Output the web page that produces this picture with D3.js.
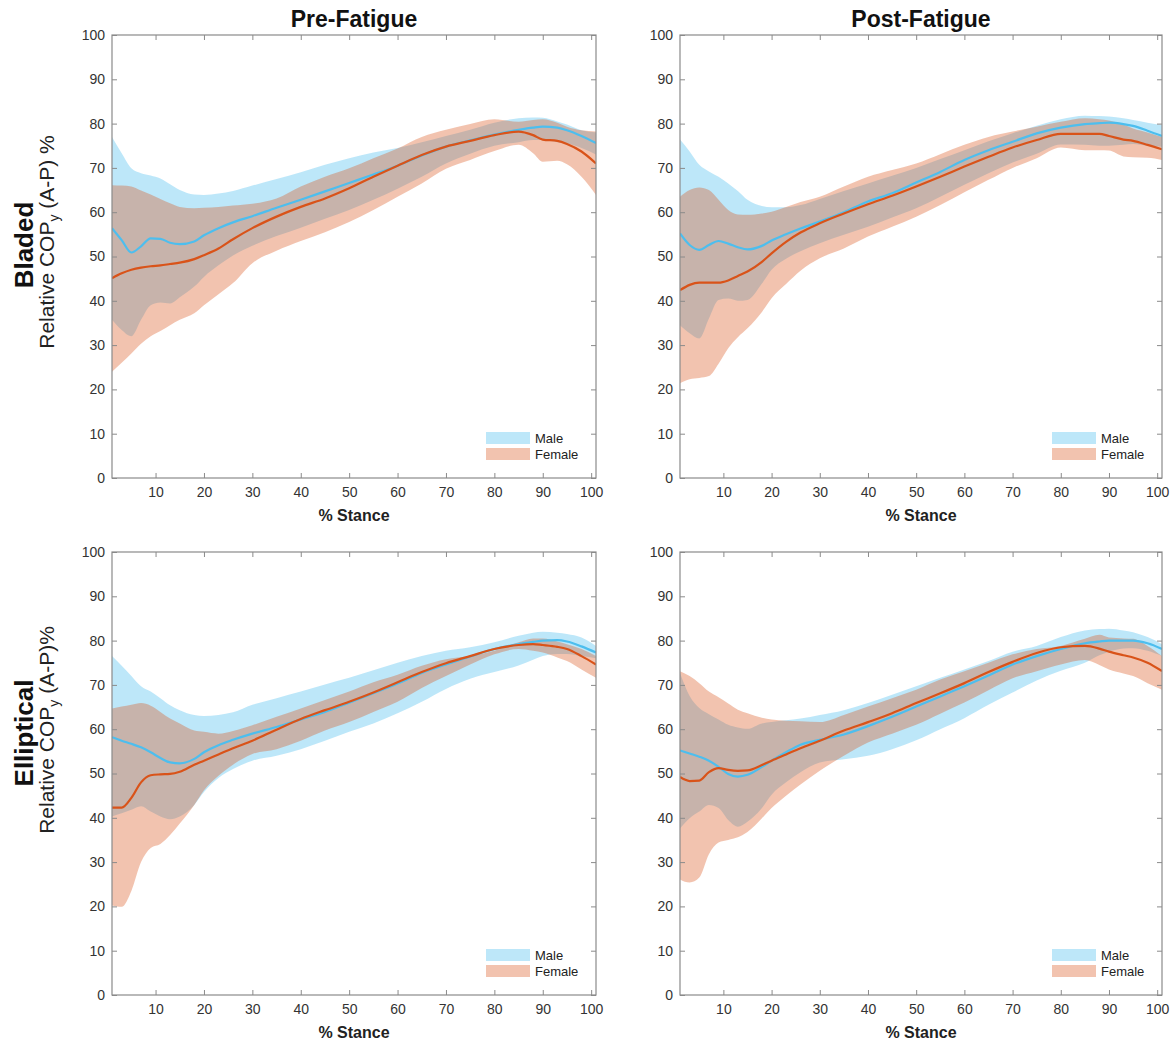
<!DOCTYPE html>
<html>
<head>
<meta charset="utf-8">
<script src="https://cdn.jsdelivr.net/npm/d3@7"></script>
<style>
  body { margin: 0; background: #fff; }
  text { font-family: "Liberation Sans", Arial, Helvetica, sans-serif; }
</style>
</head>
<body>
<svg id="chart" width="1174" height="1040"></svg>
<script>
// Knot positions along the stance phase (% stance)
const stance = [1, 3, 5, 7, 9, 11, 13, 15, 18, 20, 23, 26, 30, 35, 40, 45, 50, 55, 60, 65, 70, 75, 80, 85, 88, 90, 93, 95, 98, 101];

const xTicks = [10, 20, 30, 40, 50, 60, 70, 80, 90, 100];
const yTicks = [0, 10, 20, 30, 40, 50, 60, 70, 80, 90, 100];
const columnTitles = ["Pre-Fatigue", "Post-Fatigue"];
const rowTitles = ["Bladed", "Elliptical"];
const rowAxisLabels = [["Relative COP", "y", " (A-P) %"], ["Relative COP", "y", " (A-P)%"]];
const xAxisLabel = "% Stance";
const legendLabels = ["Male", "Female"];

// Bladed, pre-fatigue
const preBladedMaleMean   = [56.4,53.7,50.9,52.3,54.1,54.0,53.1,52.8,53.4,54.8,56.4,57.7,59.1,61.0,62.8,64.7,66.6,68.5,70.5,72.8,74.8,76.2,77.5,78.6,79.1,79.3,79.1,78.5,77.2,75.6];
const preBladedMaleUpper  = [77.0,73.3,69.9,68.8,68.3,67.6,66.3,65.0,64.0,63.9,64.2,64.8,66.0,67.5,69.0,70.7,72.2,73.5,74.5,75.8,77.2,78.6,80.2,81.2,81.4,81.3,80.5,79.8,78.5,78.0];
const preBladedMaleLower  = [35.7,33.4,32.0,35.7,39.0,39.6,39.4,40.8,43.2,45.4,48.0,50.2,52.4,54.6,56.5,58.5,60.5,62.8,65.3,68.0,71.0,73.2,75.0,75.8,76.3,76.3,75.8,75.5,74.5,73.0];
const preBladedFemMean    = [45.1,46.2,47.0,47.5,47.8,48.0,48.3,48.6,49.4,50.3,51.8,53.9,56.4,59.0,61.2,63.1,65.4,68.0,70.5,72.9,74.8,76.1,77.4,78.2,77.4,76.4,76.1,75.4,73.7,71.0];
const preBladedFemUpper   = [66.1,66.0,65.8,64.9,64.0,63.0,62.0,61.2,60.9,61.0,61.2,61.5,61.9,63.1,65.8,68.0,69.9,72.2,74.4,77.0,78.6,79.9,81.0,80.4,80.8,81.0,80.2,79.3,78.5,78.2];
const preBladedFemLower   = [24.0,26.0,28.1,30.3,32.0,33.2,34.5,35.7,37.2,39.0,41.5,44.0,48.5,51.3,53.5,55.5,57.8,60.5,63.5,66.5,69.8,71.8,73.8,75.2,73.3,71.4,71.6,70.8,68.0,63.9];

// Bladed, post-fatigue
const postBladedMaleMean  = [55.2,52.6,51.5,52.6,53.5,52.9,52.1,51.6,52.4,53.6,55.0,56.3,57.9,60.0,62.4,64.3,66.7,69.1,71.8,74.0,75.9,77.8,79.1,79.9,80.1,80.2,79.9,79.5,78.4,77.2];
const postBladedMaleUpper = [76.4,73.7,70.7,69.2,68.0,66.5,64.8,62.8,61.4,61.1,61.1,61.6,63.0,64.8,66.5,68.2,70.0,72.0,74.0,76.0,77.8,79.5,81.0,81.8,81.7,81.6,81.2,80.8,80.2,79.7];
const postBladedMaleLower = [34.5,32.7,31.5,36.0,40.2,40.5,40.0,40.2,43.9,47.0,49.5,51.2,53.0,54.9,56.7,58.8,60.9,63.5,66.2,68.8,71.2,73.2,75.3,75.2,75.0,75.0,75.2,75.4,75.0,74.8];
const postBladedFemMean   = [42.4,43.6,44.1,44.1,44.1,44.6,45.6,46.6,48.8,50.7,53.3,55.4,57.5,59.7,61.8,63.7,65.8,68.0,70.3,72.5,74.6,76.3,77.7,77.7,77.7,77.2,76.4,76.1,75.2,74.2];
const postBladedFemUpper  = [63.5,65.0,65.6,65.0,62.8,60.5,59.5,59.4,59.7,60.1,61.2,62.3,63.5,65.8,68.0,69.5,71.0,73.1,75.2,77.0,78.2,79.3,80.4,81.2,81.0,80.7,79.8,78.9,78.0,77.0];
const postBladedFemLower  = [21.4,22.3,22.6,23.0,25.8,29.3,31.8,33.8,37.5,40.6,43.8,46.8,49.6,51.8,54.5,56.7,59.0,61.6,64.5,67.3,70.0,72.2,74.6,74.0,74.0,73.9,72.6,72.4,72.3,71.8];

// Elliptical, pre-fatigue
const preEllipMaleMean    = [58.2,57.4,56.7,55.9,54.8,53.5,52.5,52.3,53.3,54.8,56.4,57.6,59.0,60.5,62.2,63.9,66.0,68.1,70.3,72.7,74.6,76.4,78.1,79.2,79.7,80.0,80.1,79.8,78.7,77.3];
const preEllipMaleUpper   = [76.5,74.3,72.0,69.7,68.5,67.0,65.4,64.3,63.2,63.0,63.2,63.8,65.5,67.0,68.5,70.1,71.6,73.3,75.0,76.5,77.7,78.5,79.6,81.1,81.8,82.0,81.8,81.5,80.7,78.8];
const preEllipMaleLower   = [40.3,41.0,41.8,42.6,41.4,40.3,39.7,40.3,42.9,45.8,49.0,51.0,52.9,54.0,55.5,57.4,59.4,61.3,63.6,66.2,69.1,71.4,72.9,74.4,75.7,76.5,77.0,77.0,76.5,76.0];
const preEllipFemMean     = [42.3,42.3,44.5,48.0,49.6,49.8,49.9,50.4,52.0,52.9,54.3,55.7,57.4,59.9,62.3,64.3,66.2,68.3,70.6,72.9,74.9,76.5,78.1,79.0,79.2,79.0,78.6,78.1,76.5,74.6];
const preEllipFemUpper    = [64.7,65.1,65.5,65.9,65.3,63.9,62.4,61.3,59.7,59.4,59.0,59.6,60.9,62.8,64.7,66.6,68.5,70.6,72.3,74.3,75.8,76.5,77.7,79.6,80.5,80.5,79.8,79.2,78.1,76.5];
const preEllipFemLower    = [20.2,19.9,23.5,30.0,33.2,34.1,36.1,38.7,42.9,46.2,49.5,52.0,54.4,55.5,57.4,59.7,61.6,63.9,66.2,69.3,72.0,74.6,76.9,78.1,77.7,77.3,76.2,75.4,73.5,71.6];

// Elliptical, post-fatigue
const postEllipMaleMean   = [55.2,54.5,53.8,52.9,51.5,49.9,49.3,49.7,51.5,52.9,54.8,56.5,57.6,58.8,60.7,62.8,65.1,67.4,69.7,72.1,74.6,76.5,78.1,79.4,79.8,80.0,80.0,80.0,79.4,78.1];
const postEllipMaleUpper  = [72.7,67.5,64.8,63.4,62.2,61.0,60.4,60.1,61.3,61.6,62.0,62.4,63.2,64.3,65.9,67.8,69.7,71.6,73.5,75.4,77.5,78.8,80.8,82.3,82.6,82.7,82.3,81.9,80.8,79.2];
const postEllipMaleLower  = [37.6,39.9,41.4,42.9,42.2,39.5,38.0,39.1,42.2,45.2,48.0,50.3,52.5,53.2,54.0,55.5,57.5,60.0,62.5,65.5,68.3,71.0,73.2,75.0,76.7,77.5,78.2,78.3,77.7,76.5];
const postEllipFemMean    = [49.2,48.3,48.4,50.3,51.2,50.8,50.6,50.7,51.9,52.9,54.3,55.7,57.4,59.7,61.6,63.6,65.9,68.1,70.4,72.9,75.2,77.2,78.5,78.8,78.2,77.5,76.7,76.2,75.0,73.1];
const postEllipFemUpper   = [73.1,72.0,70.4,68.5,67.2,65.8,64.4,63.6,62.6,62.2,61.9,61.8,61.6,63.2,65.1,67.0,68.9,71.2,73.1,75.0,76.9,78.1,78.8,80.4,81.3,80.7,80.5,80.4,78.8,76.5];
const postEllipFemLower   = [26.1,25.4,26.5,31.8,34.4,35.0,35.6,36.8,39.9,42.2,45.0,47.5,50.6,54.0,57.0,59.0,61.0,63.5,66.0,68.8,71.5,73.1,74.6,75.6,74.5,73.5,72.6,72.0,70.4,68.9];

const panels = [
  { row: 0, col: 0,
    male:   { mean: preBladedMaleMean,  upper: preBladedMaleUpper,  lower: preBladedMaleLower },
    female: { mean: preBladedFemMean,   upper: preBladedFemUpper,   lower: preBladedFemLower } },
  { row: 0, col: 1,
    male:   { mean: postBladedMaleMean, upper: postBladedMaleUpper, lower: postBladedMaleLower },
    female: { mean: postBladedFemMean,  upper: postBladedFemUpper,  lower: postBladedFemLower } },
  { row: 1, col: 0,
    male:   { mean: preEllipMaleMean,   upper: preEllipMaleUpper,   lower: preEllipMaleLower },
    female: { mean: preEllipFemMean,    upper: preEllipFemUpper,    lower: preEllipFemLower } },
  { row: 1, col: 1,
    male:   { mean: postEllipMaleMean,  upper: postEllipMaleUpper,  lower: postEllipMaleLower },
    female: { mean: postEllipFemMean,   upper: postEllipFemUpper,   lower: postEllipFemLower } }
];

// Frame geometry for the 2x2 grid
const colX = [[112, 596], [680, 1162]];
const rowY = [[35, 478], [552, 995]];
const rowLabelY = [245, 733];

const style = {
  male:   { line: "#4DBEEE", fill: "rgba(77,190,238,0.37)" },
  female: { line: "#D95319", fill: "rgba(217,83,25,0.35)" },
  axis: "#8a8a8a",
  tickText: "#333"
};

const svg = d3.select("#chart");
svg.append("rect").attr("width", 1174).attr("height", 1040).attr("fill", "#fff");

panels.forEach((p, idx) => {
  const [L, R] = colX[p.col];
  const [T, B] = rowY[p.row];
  const x = d3.scaleLinear().domain([1, 101]).range([L, R]);
  const y = d3.scaleLinear().domain([0, 100]).range([B, T]);

  const clipId = "clip" + idx;
  svg.append("clipPath").attr("id", clipId)
    .append("rect").attr("x", L).attr("y", T).attr("width", R - L).attr("height", B - T);

  const g = svg.append("g").attr("clip-path", `url(#${clipId})`);

  const band = s => d3.area()
    .curve(d3.curveMonotoneX)
    .x((d, i) => x(stance[i]))
    .y0((d, i) => y(s.lower[i]))
    .y1((d, i) => y(s.upper[i]))(s.mean);
  const line = s => d3.line()
    .curve(d3.curveMonotoneX)
    .x((d, i) => x(stance[i]))
    .y(d => y(d))(s.mean);

  g.append("path").attr("d", band(p.male)).attr("fill", style.male.fill);
  g.append("path").attr("d", band(p.female)).attr("fill", style.female.fill);
  g.append("path").attr("d", line(p.male)).attr("fill", "none")
    .attr("stroke", style.male.line).attr("stroke-width", 2.2);
  g.append("path").attr("d", line(p.female)).attr("fill", "none")
    .attr("stroke", style.female.line).attr("stroke-width", 2.2);

  // Axes with inward ticks on all four sides
  const axB = svg.append("g").attr("transform", `translate(0,${B})`)
    .call(d3.axisBottom(x).tickValues(xTicks).tickSizeInner(-5).tickSizeOuter(0).tickPadding(9));
  const axL = svg.append("g").attr("transform", `translate(${L},0)`)
    .call(d3.axisLeft(y).tickValues(yTicks).tickSizeInner(-5).tickSizeOuter(0).tickPadding(7));
  const axT = svg.append("g").attr("transform", `translate(0,${T})`)
    .call(d3.axisTop(x).tickValues(xTicks).tickSizeInner(-5).tickSizeOuter(0).tickFormat(""));
  const axR = svg.append("g").attr("transform", `translate(${R},0)`)
    .call(d3.axisRight(y).tickValues(yTicks).tickSizeInner(-5).tickSizeOuter(0).tickFormat(""));
  [axB, axL, axT, axR].forEach(a => {
    a.select(".domain").remove();
    a.selectAll(".tick line").attr("stroke", style.axis);
    a.selectAll(".tick text").attr("fill", style.tickText)
      .style("font-size", "14px").style("font-family", '"Liberation Sans", Arial, sans-serif');
  });
  svg.append("rect").attr("x", L).attr("y", T).attr("width", R - L).attr("height", B - T)
    .attr("fill", "none").attr("stroke", style.axis).attr("stroke-width", 1.2);

  // x-axis title
  svg.append("text").attr("x", (L + R) / 2).attr("y", B + 43)
    .attr("text-anchor", "middle").attr("font-weight", "bold").attr("font-size", 16)
    .attr("fill", "#222").text(xAxisLabel);

  // Legend
  const legend = [
    { label: legendLabels[0], fill: style.male.fill },
    { label: legendLabels[1], fill: style.female.fill }
  ];
  legend.forEach((it, k) => {
    const top = B - 46 + k * 16;
    svg.append("rect").attr("x", R - 110).attr("y", top).attr("width", 44).attr("height", 12)
      .attr("fill", it.fill);
    svg.append("text").attr("x", R - 61).attr("y", top + 11)
      .attr("font-size", 13).attr("fill", "#222").text(it.label);
  });
});

// Column titles
columnTitles.forEach((t, c) => {
  svg.append("text").attr("x", (colX[c][0] + colX[c][1]) / 2).attr("y", 27)
    .attr("text-anchor", "middle").attr("font-weight", "bold").attr("font-size", 23)
    .attr("fill", "#111").text(t);
});

// Row titles and y-axis labels
rowTitles.forEach((t, r) => {
  const cy = rowLabelY[r];
  svg.append("text").attr("transform", `translate(33,${cy}) rotate(-90)`)
    .attr("text-anchor", "middle").attr("font-weight", "bold").attr("font-size", 26)
    .attr("fill", "#111").text(t);
  const lab = svg.append("text").attr("transform", `translate(54,${cy - 3}) rotate(-90)`)
    .attr("text-anchor", "middle").attr("font-size", 21).attr("fill", "#222");
  const parts = rowAxisLabels[r];
  lab.append("tspan").text(parts[0]);
  lab.append("tspan").attr("font-size", 14).attr("dy", 5).text(parts[1]);
  lab.append("tspan").attr("dy", -5).text(parts[2]);
});
</script>
</body>
</html>
